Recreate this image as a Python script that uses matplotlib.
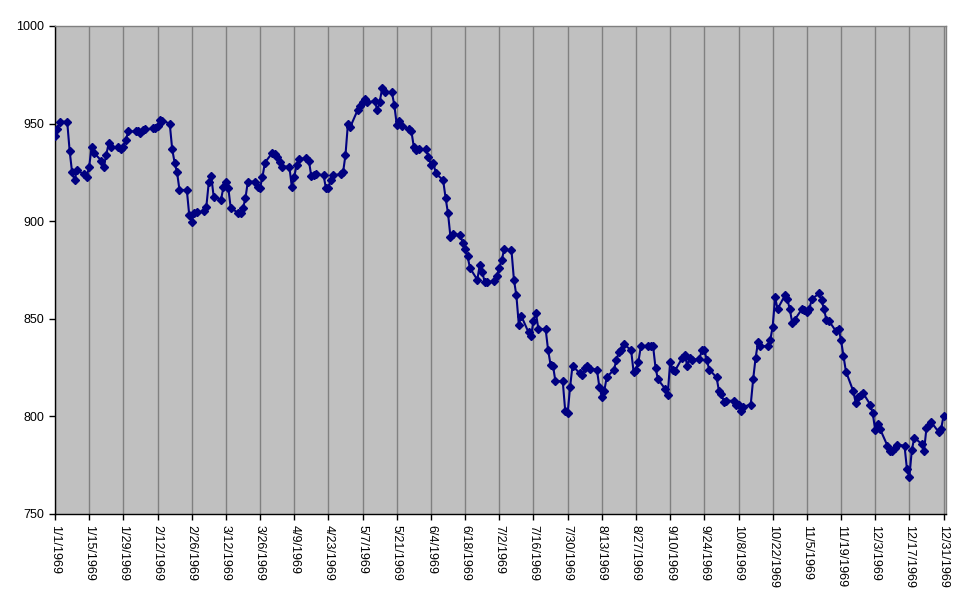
import pandas as pd
import matplotlib
matplotlib.use("Agg")
import matplotlib.pyplot as plt
import matplotlib.dates as mdates

# daily closes, one per weekday of 1969
dates = pd.bdate_range("1969-01-01", "1969-12-31")
closes = [
    943.75, 947, 951,
    951, 936, 925, 921, 926,
    924, 922.8, 928, 938, 935,
    931, 928, 934, 940, 938,
    938, 937, 938, 941.6, 946,
    946, 946, 945, 946.5, 947,
    947.5, 948, 949, 951.8, 951.5,
    950, 937, 930, 925, 916,
    916, 903, 899.8, 904, 904.5,
    905, 907.5, 920, 923, 912.6,
    911, 917.4, 920, 917, 906.6,
    904.4, 904, 906.6, 911.7, 920.3,
    920.3, 917.4, 917, 922.8, 930,
    935, 934.5, 933, 930.5, 928,
    928, 917.7, 922.8, 928.8, 931.7,
    932.5, 931, 923, 923.6, 924,
    923.6, 916.8, 917, 921, 923.6,
    924, 925, 934, 950, 948.4,
    957, 959, 961, 962.4, 961,
    961.5, 957, 961, 968, 966.4,
    966, 959.5, 949.5, 951.5, 949,
    947, 946, 938, 936.5, 937,
    936.8, 933, 929, 930, 924.5,
    921, 912, 904, 892, 893.4,
    893, 889, 886, 882, 876,
    870, 877.6, 874, 869, 868.6,
    869.5, 872, 876, 880, 885.6,
    885, 870, 862, 847, 851.5,
    843, 841, 849, 853, 845,
    844.6, 834, 826.5, 826, 818,
    818, 803, 801.5, 815, 826,
    822, 821, 824.6, 825.8, 824.4,
    824, 815, 810, 813, 820,
    824, 829, 833, 834, 837,
    834, 823, 824, 828, 836,
    836.3, 836.3, 836, 825, 819,
    814, 811, 828, 824, 823.5,
    830, 831.5, 826, 830, 829,
    829.5, 834, 834, 829, 824,
    820, 813, 811.5, 807.5, 808,
    808, 806, 806, 803, 805,
    806, 819, 830, 838, 836,
    836, 839, 846, 861, 855,
    862, 860, 855, 848, 849.5,
    855, 854.6, 853.6, 855, 860,
    863, 859.5, 855, 849.5, 849,
    843.5, 845, 839, 831, 823,
    813, 807, 810, 811, 812,
    806, 801.5, 793, 796, 793.5,
    785, 782.5, 782.5, 784, 785.5,
    785, 773, 769, 782.8, 789,
    786, 782.5, 794, 795.6, 797,
    792, 793.5, 800.4,
]

tick_dates = pd.date_range("1969-01-01", "1969-12-31", freq="14D")
tick_labels = [f"{d.month}/{d.day}/{d.year}" for d in tick_dates]
y_ticks = [750, 800, 850, 900, 950, 1000]

plt.rcParams["font.family"] = ["Liberation Sans", "DejaVu Sans"]

fig = plt.figure(figsize=(9.71, 6.05), dpi=100)
ax = fig.add_axes([55 / 971, 1 - 514 / 605, 891 / 971, 488 / 605])
ax.set_facecolor("#C0C0C0")

ax.plot(dates, closes, color="#000080", lw=1.5, marker="D", ms=3.6,
        mec="#000080", mfc="#000080", zorder=3)

ax.set_xlim(pd.Timestamp("1969-01-01"), pd.Timestamp("1970-01-01"))
ax.set_ylim(750, 1000)
ax.set_xticks(tick_dates)
ax.set_xticklabels(tick_labels, rotation=-90, fontsize=9)
ax.set_yticks(y_ticks)
ax.set_yticklabels([str(v) for v in y_ticks], fontsize=9)

ax.grid(True, axis="x", color="#808080", lw=1, zorder=1)
ax.set_axisbelow(True)
ax.tick_params(axis="both", direction="out", length=4, width=1, color="black", pad=4)

for side in ["top", "right"]:
    ax.spines[side].set_color("#808080")
    ax.spines[side].set_linewidth(1)
for side in ["left", "bottom"]:
    ax.spines[side].set_color("black")
    ax.spines[side].set_linewidth(1)

fig.savefig("out.png", dpi=100, facecolor="white")
